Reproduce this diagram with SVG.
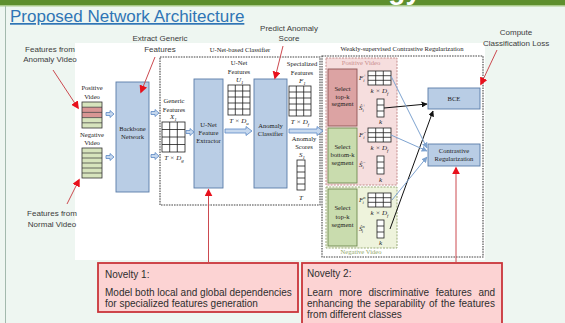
<svg xmlns="http://www.w3.org/2000/svg" width="565" height="323" viewBox="0 0 565 323">
  <defs>
    <style>
      .sans{font-family:"Liberation Sans",Arial,sans-serif}
      .side{font-family:"Liberation Sans",Arial,sans-serif;font-size:8px;fill:#3c3c3c;text-anchor:middle}
      .lbl{font-family:"Liberation Serif","Times New Roman",serif;font-size:6.6px;fill:#222;text-anchor:middle}
      .math{font-family:"Liberation Serif","Times New Roman",serif;font-size:7px;fill:#222;font-style:italic}
      .blk{fill:#b9cde5;stroke:#5a7ca8;stroke-width:0.9}
      .grid{fill:#fff;stroke:#1e1e1e;stroke-width:0.8}
      .red{stroke:#cc4a50;stroke-width:1;fill:none;marker-end:url(#redhead)}
      .barrow{fill:#c6d8ee;stroke:#5b88c4;stroke-width:0.8}
      .dash{fill:none;stroke:#444;stroke-width:1.1;stroke-dasharray:1.6 1}
      .note{font-family:"Liberation Sans",Arial,sans-serif;font-size:10px;fill:#2e2e2e}
      .nbox{fill:#fcd3d3;stroke:#c9353a;stroke-width:1.8}
    </style>
    <marker id="redhead" viewBox="0 0 10 10" refX="8" refY="5" markerWidth="8" markerHeight="8" markerUnits="userSpaceOnUse" orient="auto">
      <path d="M0,0 L10,5 L0,10 z" fill="#e8101c"/>
    </marker>
    <marker id="blackhead" viewBox="0 0 10 10" refX="9" refY="5" markerWidth="6" markerHeight="6" markerUnits="userSpaceOnUse" orient="auto">
      <path d="M0,0 L10,5 L0,10 z" fill="#111"/>
    </marker>
    <marker id="bluehead" viewBox="0 0 10 10" refX="9" refY="5" markerWidth="6" markerHeight="6" markerUnits="userSpaceOnUse" orient="auto">
      <path d="M0,0 L10,5 L0,10 z" fill="#7ea3d0"/>
    </marker>
  </defs>

  <!-- slide background -->
  <rect x="0" y="0" width="565" height="323" fill="#eef6f1"/>
  <rect x="0" y="0" width="565" height="5" fill="#5e8f2e"/>
  <rect x="0" y="5" width="565" height="1.5" fill="#a9c98a"/>
  <text x="421" y="-1" text-anchor="end" class="sans" font-size="28" font-weight="bold" fill="#ffffff">Methodology</text>
  <line x1="5.5" y1="6" x2="5.5" y2="323" stroke="#a3b9ad" stroke-width="1"/>

  <!-- heading -->
  <text x="10" y="22" class="sans" font-size="17" fill="#2f75b5" text-decoration="underline">Proposed  Network Architecture</text>

  <!-- figure canvas -->
  <rect x="75" y="43" width="410" height="217" fill="#ffffff"/>

  <!-- annotations -->
  <g id="ann-anomaly">
    <text class="side" x="50" y="52">Features from</text>
    <text class="side" x="50" y="62">Anomaly Video</text>
  </g>
  <g id="ann-normal">
    <text class="side" x="52" y="216">Features from</text>
    <text class="side" x="52" y="227">Normal Video</text>
  </g>
  <g id="ann-extract">
    <text class="side" x="160" y="41">Extract Generic</text>
    <text class="side" x="160" y="52">Features</text>
  </g>
  <g id="ann-predict">
    <text class="side" x="289" y="31">Predict Anomaly</text>
    <text class="side" x="289" y="41">Score</text>
  </g>
  <g id="ann-compute">
    <text class="side" x="516" y="35">Compute</text>
    <text class="side" x="516" y="46">Classification Loss</text>
  </g>

  <!-- input videos -->
  <g id="positive-video">
    <text class="lbl" x="92" y="90">Positive</text>
    <text class="lbl" x="92" y="99">Video</text>
    <rect x="82" y="102" width="20" height="5.2" fill="#d7e4bd"/>
    <rect x="82" y="107.2" width="20" height="5.2" fill="#d99694"/>
    <rect x="82" y="112.4" width="20" height="5.2" fill="#d99694"/>
    <rect x="82" y="117.6" width="20" height="5.2" fill="#d7e4bd"/>
    <rect x="82" y="122.8" width="20" height="5.2" fill="#d7e4bd"/>
    <path d="M82,107.2H102M82,112.4H102M82,117.6H102M82,122.8H102" stroke="#333" stroke-width="0.7"/>
    <rect x="82" y="102" width="20" height="26" fill="none" stroke="#333" stroke-width="0.8"/>
  </g>
  <g id="negative-video">
    <text class="lbl" x="92" y="137">Negative</text>
    <text class="lbl" x="92" y="145">Video</text>
    <rect x="82" y="148" width="20" height="30" fill="#d7e4bd" stroke="#333" stroke-width="0.8"/>
    <path d="M82,153H102M82,158H102M82,163H102M82,168H102M82,173H102" stroke="#333" stroke-width="0.7"/>
  </g>

  <g id="backbone">
    <rect class="blk" x="116" y="82" width="33" height="110"/>
    <text class="lbl" x="132.5" y="131">Backbone</text>
    <text class="lbl" x="132.5" y="139">Network</text>
  </g>

  <!-- U-Net-based classifier -->
  <g id="unet-classifier">
    <rect class="dash" x="160" y="57" width="160" height="148"/>
    <text class="lbl" x="240" y="52">U-Net-based Classifier</text>
  </g>

  <g id="generic-features">
    <text class="lbl" x="174" y="103">Generic</text>
    <text class="lbl" x="174" y="112">Features</text>
    <text class="math" x="170" y="119">X<tspan font-size="5" dy="1.5">1</tspan></text>
    <rect class="grid" x="162" y="122" width="23" height="30"/>
    <path d="M169.7,122V152M177.3,122V152M162,129.5H185M162,137H185M162,144.5H185" stroke="#1e1e1e" stroke-width="0.8"/>
    <text class="math" x="174" y="160" text-anchor="middle">T × D<tspan font-size="5" dy="1.5">g</tspan></text>
  </g>

  <g id="unet-extractor">
    <rect class="blk" x="194" y="79" width="29" height="109"/>
    <text class="lbl" x="208.5" y="127">U-Net</text>
    <text class="lbl" x="208.5" y="135">Feature</text>
    <text class="lbl" x="208.5" y="143">Extractor</text>
  </g>

  <g id="unet-features">
    <text class="lbl" x="239" y="65">U-Net</text>
    <text class="lbl" x="239" y="74">Features</text>
    <text class="math" x="236" y="82">U<tspan font-size="5" dy="1.5">1</tspan></text>
    <rect class="grid" x="228" y="85" width="22" height="30"/>
    <path d="M235.3,85V115M242.7,85V115M228,91H250M228,97H250M228,103H250M228,109H250" stroke="#1e1e1e" stroke-width="0.8"/>
    <text class="math" x="239" y="123" text-anchor="middle">T × D<tspan font-size="5" dy="1.5">u</tspan></text>
  </g>

  <g id="anomaly-classifier">
    <rect class="blk" x="254" y="79" width="33" height="109"/>
    <text class="lbl" x="270.5" y="128">Anomaly</text>
    <text class="lbl" x="270.5" y="136">Classifier</text>
  </g>

  <g id="specialized-features">
    <text class="lbl" x="302" y="66">Specialized</text>
    <text class="lbl" x="302" y="75">Features</text>
    <text class="math" x="299" y="83">F<tspan font-size="5" dy="1.5">1</tspan></text>
    <rect class="grid" x="289" y="86" width="22" height="30"/>
    <path d="M296.3,86V116M303.7,86V116M289,92H311M289,98H311M289,104H311M289,110H311" stroke="#1e1e1e" stroke-width="0.8"/>
    <text class="math" x="300" y="124" text-anchor="middle">T × D<tspan font-size="5" dy="1.5">f</tspan></text>
  </g>

  <g id="anomaly-scores">
    <text class="lbl" x="304" y="141">Anomaly</text>
    <text class="lbl" x="304" y="149">Scores</text>
    <text class="math" x="299" y="157">S<tspan font-size="5" dy="1.5">1</tspan></text>
    <rect class="grid" x="297" y="160" width="8" height="30"/>
    <path d="M297,166H305M297,172H305M297,178H305M297,184H305" stroke="#1e1e1e" stroke-width="0.8"/>
    <text class="math" x="301" y="200" text-anchor="middle">T</text>
  </g>

  <!-- weakly-supervised contrastive regularization -->
  <g id="contrastive-block">
    <rect class="dash" x="322" y="56" width="161" height="201"/>
    <text class="lbl" x="402" y="51">Weakly-supervised Contrastive Regularization</text>
  </g>

  <g id="positive-branch">
    <rect x="326" y="58" width="71" height="127" fill="#f6dede" stroke="#c48c8c" stroke-width="1" stroke-dasharray="2 1.2"/>
    <text class="lbl" x="361" y="65" fill="#c98d8d" style="fill:#c98d8d">Positive Video</text>
  </g>
  <g id="negative-branch">
    <rect x="326" y="187" width="71" height="61" fill="#eef3dc" stroke="#9aab78" stroke-width="1" stroke-dasharray="2 1.2"/>
    <text class="lbl" x="361" y="254" style="fill:#93a86a">Negative Video</text>
  </g>

  <g id="select-topk-pos">
    <rect x="328" y="69" width="29" height="57" fill="#dca3a3" stroke="#8e5656" stroke-width="0.9"/>
    <text class="lbl" x="342.5" y="91">Select</text>
    <text class="lbl" x="342.5" y="98.5">top-k</text>
    <text class="lbl" x="342.5" y="106">segment</text>
  </g>
  <g id="select-bottomk-pos">
    <rect x="328" y="128" width="29" height="55" fill="#c9dcae" stroke="#6f8a50" stroke-width="0.9"/>
    <text class="lbl" x="342.5" y="149">Select</text>
    <text class="lbl" x="342.5" y="157">bottom-k</text>
    <text class="lbl" x="342.5" y="165">segment</text>
  </g>
  <g id="select-topk-neg">
    <rect x="328" y="189" width="29" height="57" fill="#c9dcae" stroke="#6f8a50" stroke-width="0.9"/>
    <text class="lbl" x="342.5" y="210">Select</text>
    <text class="lbl" x="342.5" y="218.5">top-k</text>
    <text class="lbl" x="342.5" y="227">segment</text>
  </g>

  <g id="feat-pos">
    <text class="math" x="359" y="80">F<tspan font-size="4.5" dy="-3">+</tspan><tspan font-size="4.5" dx="-3" dy="5">i</tspan></text>
    <rect class="grid" x="368" y="71" width="23" height="14"/>
    <path d="M375.7,71V85M383.3,71V85M368,75.7H391M368,80.3H391" stroke="#1e1e1e" stroke-width="0.8"/>
    <text class="math" x="379.5" y="93" text-anchor="middle">k × D<tspan font-size="5" dy="1.5">f</tspan></text>
    <text class="math" x="359" y="110">Ŝ<tspan font-size="4.5" dy="-3">+</tspan><tspan font-size="4.5" dx="-3" dy="5">i</tspan></text>
    <rect class="grid" x="377" y="99" width="7" height="18"/>
    <path d="M377,105H384M377,111H384" stroke="#1e1e1e" stroke-width="0.8"/>
    <text class="math" x="380.5" y="124" text-anchor="middle">k</text>
  </g>
  <g id="feat-neg-in-pos">
    <text class="math" x="359" y="137">F<tspan font-size="4.5" dy="-3">−</tspan><tspan font-size="4.5" dx="-3" dy="5">i</tspan></text>
    <rect class="grid" x="368" y="128" width="23" height="14"/>
    <path d="M375.7,128V142M383.3,128V142M368,132.7H391M368,137.3H391" stroke="#1e1e1e" stroke-width="0.8"/>
    <text class="math" x="379.5" y="150" text-anchor="middle">k × D<tspan font-size="5" dy="1.5">f</tspan></text>
    <text class="math" x="359" y="167">Ŝ<tspan font-size="4.5" dy="-3">−</tspan><tspan font-size="4.5" dx="-3" dy="5">i</tspan></text>
    <rect class="grid" x="377" y="156" width="7" height="18"/>
    <path d="M377,162H384M377,168H384" stroke="#1e1e1e" stroke-width="0.8"/>
    <text class="math" x="380.5" y="182" text-anchor="middle">k</text>
  </g>
  <g id="feat-neg">
    <text class="math" x="359" y="202">F<tspan font-size="4.5" dy="-3">n</tspan><tspan font-size="4.5" dx="-3" dy="5">i</tspan></text>
    <rect class="grid" x="368" y="193" width="23" height="14"/>
    <path d="M375.7,193V207M383.3,193V207M368,197.7H391M368,202.3H391" stroke="#1e1e1e" stroke-width="0.8"/>
    <text class="math" x="379.5" y="215" text-anchor="middle">k × D<tspan font-size="5" dy="1.5">f</tspan></text>
    <text class="math" x="359" y="231">Ŝ<tspan font-size="4.5" dy="-3">n</tspan><tspan font-size="4.5" dx="-3" dy="5">i</tspan></text>
    <rect class="grid" x="377" y="220" width="7" height="18"/>
    <path d="M377,226H384M377,232H384" stroke="#1e1e1e" stroke-width="0.8"/>
    <text class="math" x="380.5" y="245" text-anchor="middle">k</text>
  </g>

  <g id="bce">
    <rect class="blk" x="428" y="88" width="52" height="21"/>
    <text class="lbl" x="454" y="101">BCE</text>
  </g>
  <g id="contrastive-reg">
    <rect class="blk" x="428" y="144" width="52" height="22"/>
    <text class="lbl" x="454" y="153">Contrastive</text>
    <text class="lbl" x="454" y="161">Regularization</text>
  </g>

  <!-- novelty callouts -->
  <g id="novelty-1">
    <rect class="nbox" x="98" y="263" width="200" height="49"/>
    <text class="note" x="105" y="277.5">Novelty 1:</text>
    <text class="note" x="105" y="295.5">Model both local and global dependencies</text>
    <text class="note" x="105" y="306.5">for specialized features generation</text>
  </g>
  <g id="novelty-2">
    <rect class="nbox" x="302" y="263" width="200" height="64"/>
    <text class="note" x="307" y="277">Novelty 2:</text>
    <text class="note" x="307" y="295.5" word-spacing="3.8">Learn more discriminative features and</text>
    <text class="note" x="307" y="306.5" word-spacing="1">enhancing the separability of the features</text>
    <text class="note" x="307" y="318">from different classes</text>
  </g>

  <!-- connectors -->
  <g id="connectors">
    <path class="barrow" d="M106,112.5H110V110.5L114,114L110,117.5V115.5H106Z"/>
    <path class="barrow" d="M106,155.5H110V153.5L114,157L110,160.5V158.5H106Z"/>
    <path class="barrow" d="M151,111.5H155V109.5L159,113L155,116.5V114.5H151Z"/>
    <path class="barrow" d="M151,154.5H155V152.5L159,156L155,159.5V157.5H151Z"/>
    <path class="barrow" d="M186,130.5H190V128.5L194,132L190,135.5V133.5H186Z"/>
    <path class="barrow" d="M225,129H246V126.5L252,131L246,135.5V133H225Z"/>
    <path class="barrow" d="M289,129H317V126.5L323,131L317,135.5V133H289Z"/>

    <line x1="384" y1="108" x2="427" y2="104" stroke="#111" stroke-width="1" marker-end="url(#blackhead)"/>
    <line x1="390" y1="229" x2="433" y2="111" stroke="#111" stroke-width="1" marker-end="url(#blackhead)"/>
    <line x1="391" y1="76" x2="427" y2="148" stroke="#7ea3d0" stroke-width="1" marker-end="url(#bluehead)"/>
    <line x1="391" y1="135" x2="427" y2="151" stroke="#7ea3d0" stroke-width="1" marker-end="url(#bluehead)"/>
    <line x1="392" y1="200" x2="427" y2="157" stroke="#7ea3d0" stroke-width="1" marker-end="url(#bluehead)"/>

    <line class="red" x1="53" y1="70" x2="78" y2="108"/>
    <line class="red" x1="67" y1="204" x2="79" y2="180"/>
    <line class="red" x1="155" y1="57" x2="141" y2="92"/>
    <line class="red" x1="283" y1="46" x2="275" y2="78"/>
    <line class="red" x1="497" y1="50" x2="481" y2="84"/>
    <line class="red" x1="208.5" y1="263" x2="208.5" y2="190"/>
    <line class="red" x1="456" y1="263" x2="456" y2="168"/>
  </g>
</svg>
